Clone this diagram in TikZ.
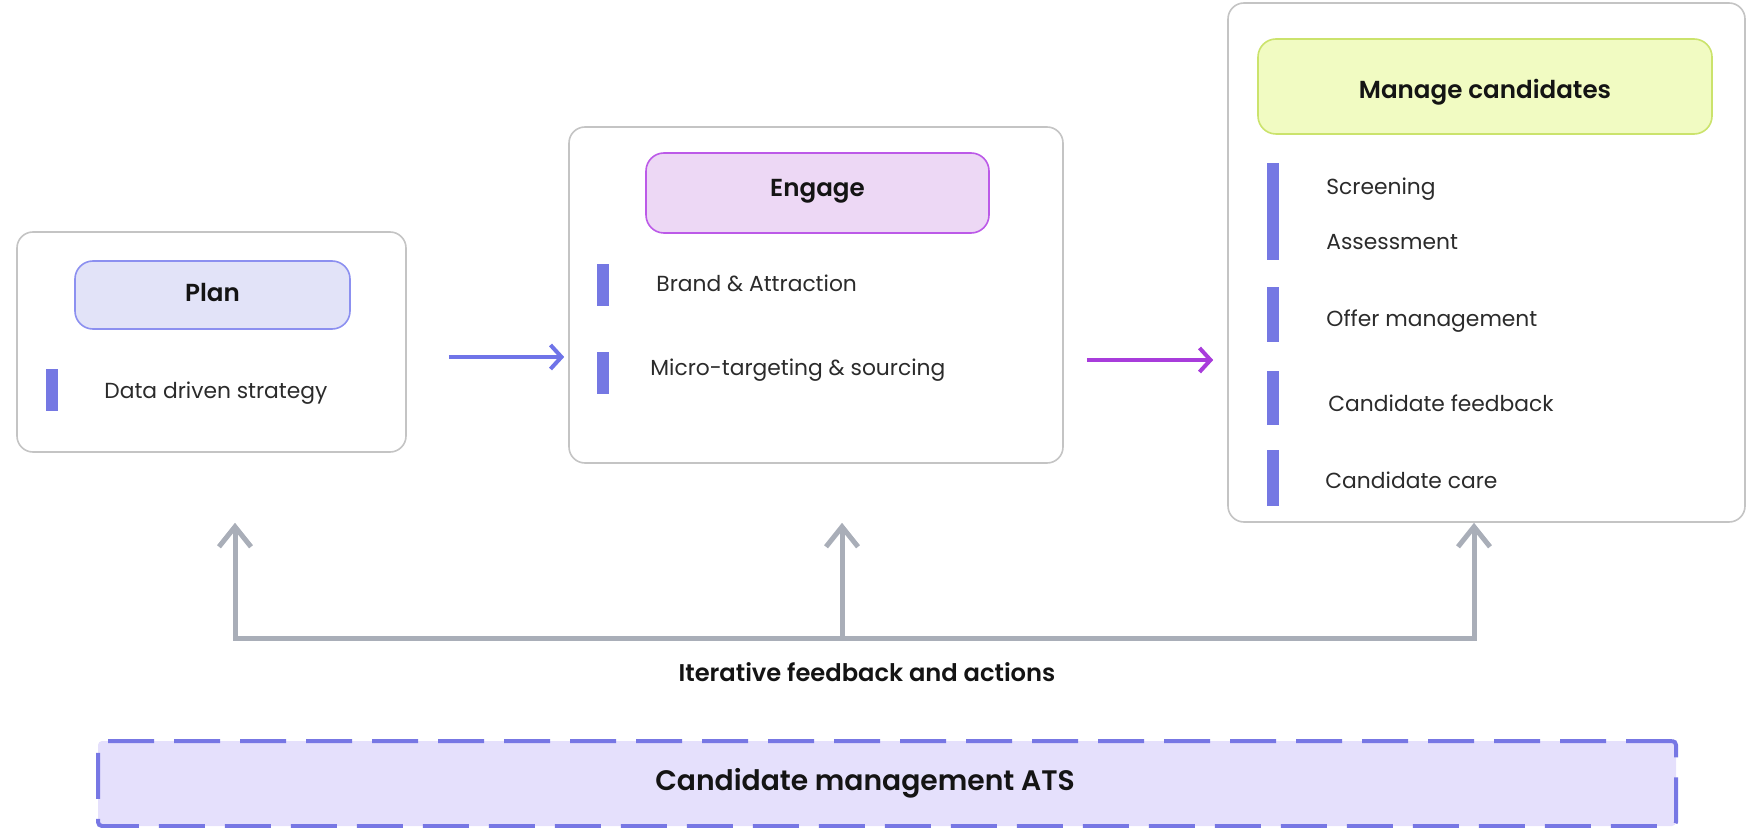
\documentclass[tikz,border=0pt]{standalone}
\usepackage{fontspec}
\setmainfont{Poppins}
\newfontfamily\semibf{Poppins SemiBold}
\usetikzlibrary{arrows.meta,calc}
\definecolor{barc}{HTML}{7578E3}
\definecolor{outerc}{HTML}{C4C4C4}
\definecolor{planfill}{HTML}{E2E3F8}
\definecolor{plandraw}{HTML}{8C90F0}
\definecolor{engfill}{HTML}{EDD8F5}
\definecolor{engdraw}{HTML}{BC5AE8}
\definecolor{manfill}{HTML}{F1FBC2}
\definecolor{mandraw}{HTML}{CBE36C}
\definecolor{bluearr}{HTML}{6F74E8}
\definecolor{purparr}{HTML}{A83CDB}
\definecolor{grayarr}{HTML}{A9AEB8}
\definecolor{atsfill}{HTML}{E5E0FC}
\definecolor{atsdraw}{HTML}{7777E4}
\definecolor{itemtxt}{HTML}{2B2B2B}
\tikzset{
  outerbox/.style={draw=outerc, line width=0.8pt, rounded corners=8pt, fill=white},
  headbox/.style={line width=0.8pt, rounded corners=9pt},
  headtext/.style={inner sep=0pt, font=\semibf\fontsize{12.3}{14}\selectfont, text=black!92, text height=0.72em, text depth=0pt},
  item/.style={anchor=west, inner sep=0pt, font=\fontsize{10.9}{13}\selectfont, text=itemtxt, text height=0.72em, text depth=0pt},
  barfill/.style={fill=barc},
  flowarrow/.style={line width=2pt, -{Straight Barb[length=5.5pt,width=12pt]}},
  fbarrow/.style={draw=grayarr, line width=2.5pt, -{Straight Barb[length=10pt,width=16pt]}},
}
\begin{document}
\begin{tikzpicture}[x=0.5pt,y=-0.5pt]
\useasboundingbox (0,0) rectangle (1755,828);

% Plan
\node[outerbox, minimum width=194.5pt, minimum height=110pt] (plan) at (211.5,342) {};
\node[headbox, fill=planfill, draw=plandraw, minimum width=137.5pt, minimum height=34pt] (planh) at (212.5,295) {};
\node[headtext] (planht) at (212.5,294) {Plan};
\fill[barfill] (46,369) rectangle (58,411);
\node[item] (p1) at (104,391) {Data driven strategy};

% Engage
\node[outerbox, minimum width=247pt, minimum height=168pt] (engage) at (816,295) {};
\node[headbox, fill=engfill, draw=engdraw, minimum width=171.5pt, minimum height=40pt] (engh) at (817.5,193) {};
\node[headtext] (enght) at (817.5,189.5) {Engage};
\fill[barfill] (597,264) rectangle (609,306);
\fill[barfill] (597,352) rectangle (609,394);
\node[item] (e1) at (656,284) {Brand \& Attraction};
\node[item] (e2) at (650,368) {Micro-targeting \& sourcing};

% Manage
\node[outerbox, minimum width=258.5pt, minimum height=259.5pt] (manage) at (1486.5,262.5) {};
\node[headbox, fill=manfill, draw=mandraw, minimum width=227pt, minimum height=47.5pt] (manh) at (1485,86.5) {};
\node[headtext] (manht) at (1485,91) {Manage candidates};
\fill[barfill] (1267,163) rectangle (1279,260);
\fill[barfill] (1267,287) rectangle (1279,342);
\fill[barfill] (1267,371) rectangle (1279,425);
\fill[barfill] (1267,450) rectangle (1279,506);
\node[item] (m1) at (1326,187) {Screening};
\node[item] (m2) at (1326,242) {Assessment};
\node[item] (m3) at (1326,319) {Offer management};
\node[item] (m4) at (1328,404) {Candidate feedback};
\node[item] (m5) at (1325,481) {Candidate care};

% flow arrows
\coordinate (ya) at (0,357);
\coordinate (yb) at (0,360);
\draw[flowarrow, draw=bluearr, shorten <=21pt, shorten >=2pt] (plan.east |- ya) -- (engage.west |- ya);
\draw[flowarrow, draw=purparr, shorten <=11.5pt, shorten >=7pt] (engage.east |- yb) -- (manage.west |- yb);

% feedback
\coordinate (fbL) at (235,638);
\coordinate (fbM) at (842,638);
\coordinate (fbR) at (1474,638);
\draw[grayarr, line width=2.5pt] (fbL) -- (fbR);
\draw[fbarrow] ([yshift=-1.25pt]fbL) -- (fbL |- manage.south);
\draw[fbarrow] (fbM) -- (fbM |- manage.south);
\draw[fbarrow] ([yshift=-1.25pt]fbR) -- (fbR |- manage.south);
\node[font=\semibf\fontsize{12.1}{14}\selectfont, text=black!92] (fbtext) at (867,672) {Iterative feedback and actions};

% ATS
\node[draw=atsdraw, fill=atsfill, line width=2pt, dash pattern=on 23pt off 10pt, rounded corners=2pt, minimum width=789pt, minimum height=42.5pt] (ats) at (887,783.5) {};
\node[font=\semibf\fontsize{14.1}{16}\selectfont, text=black!92] (atstext) at (865,783) {Candidate management ATS};
\end{tikzpicture}
\end{document}
